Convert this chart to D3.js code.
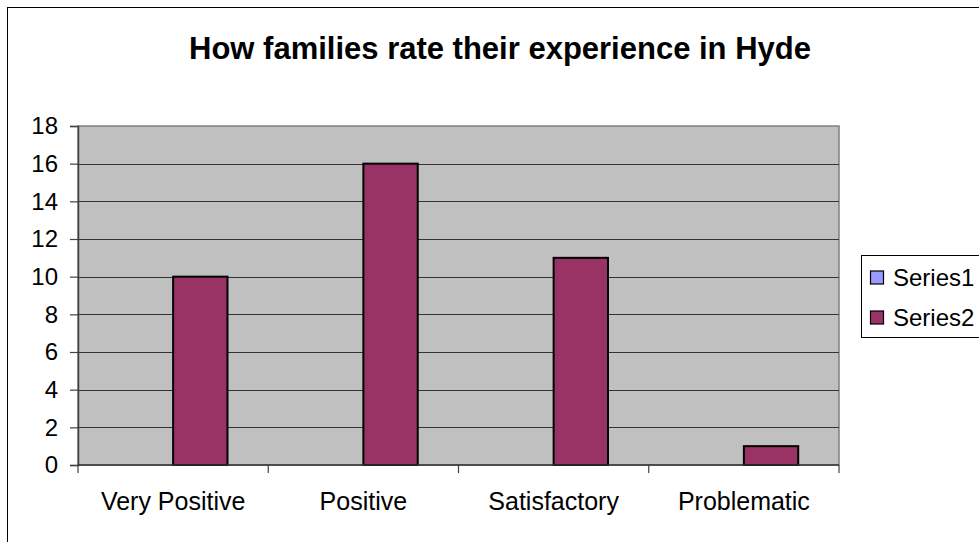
<!DOCTYPE html>
<html>
<head>
<meta charset="utf-8">
<script src="https://cdn.jsdelivr.net/npm/d3@7"></script>
<style>
  body { margin: 0; background: #fff; }
  svg { display: block; font-family: Arial, "Liberation Sans", sans-serif; }
</style>
</head>
<body>
<svg id="chart" width="979" height="542"></svg>
<script>
// dades
const categories = ["Very Positive", "Positive", "Satisfactory", "Problematic"];
const seriesNames = ["Series1", "Series2"];
const series1 = [0, 0, 0, 0];
const series2 = [10, 16, 11, 1];
const yTicks = [0, 2, 4, 6, 8, 10, 12, 14, 16, 18];
const colors = ["#9999FF", "#993366"];

const svg = d3.select("#chart");

// marc exterior
svg.append("rect")
   .attr("x", 7.5).attr("y", 7.5)
   .attr("width", 1000).attr("height", 600)
   .attr("fill", "none").attr("stroke", "#000").attr("stroke-width", 1);

const plot = { left: 78, top: 126, right: 839, bottom: 465 };

const x0 = d3.scaleBand()
             .domain(categories)
             .range([plot.left, plot.right])
             .padding(0);

// gap width 150% com a Excel
const barW = x0.bandwidth() / 3.5;
const x1 = d3.scaleBand()
             .domain(seriesNames)
             .range([barW * 0.75, x0.bandwidth() - barW * 0.75])
             .padding(0);

const y = d3.scaleLinear()
            .domain([0, 18])
            .range([plot.bottom, plot.top]);

const color = d3.scaleOrdinal().domain(seriesNames).range(colors);

// fons de l'àrea
svg.append("rect")
   .attr("x", plot.left).attr("y", plot.top)
   .attr("width", plot.right - plot.left).attr("height", plot.bottom - plot.top)
   .attr("fill", "#C0C0C0")
   .attr("stroke", "#808080").attr("stroke-width", 1.5);

// línies de quadrícula
svg.append("g")
   .selectAll("line")
   .data(yTicks.filter(d => d > 0 && d < 18))
   .enter()
   .append("line")
   .attr("x1", plot.left).attr("x2", plot.right)
   .attr("y1", d => Math.round(y(d)) + 0.5).attr("y2", d => Math.round(y(d)) + 0.5)
   .attr("stroke", "#333").attr("stroke-width", 1.2);

// barres
const data = categories.map((c, i) => ({
    cat: c,
    values: [
        { name: "Series1", v: series1[i] },
        { name: "Series2", v: series2[i] }
    ]
}));

const grups = svg.selectAll(".grup")
                 .data(data)
                 .enter()
                 .append("g")
                 .attr("class", "grup")
                 .attr("transform", d => `translate(${x0(d.cat)},0)`);

grups.selectAll("rect")
     .data(d => d.values.filter(v => v.v > 0))
     .enter()
     .append("rect")
     .attr("x", d => x1(d.name))
     .attr("y", d => y(d.v))
     .attr("width", x1.bandwidth())
     .attr("height", d => y(0) - y(d.v))
     .attr("fill", d => color(d.name))
     .attr("stroke", "#000").attr("stroke-width", 2);

// eix Y
const yAxis = svg.append("g")
   .attr("transform", `translate(${plot.left},0)`)
   .call(d3.axisLeft(y).tickValues(yTicks).tickSize(8).tickPadding(12));
yAxis.select(".domain").attr("stroke", "#404040").attr("stroke-width", 1.5);
yAxis.selectAll(".tick line").attr("stroke", "#404040").attr("stroke-width", 1.2);
yAxis.selectAll("text")
     .style("font-size", "24px")
     .style("font-family", "Arial, 'Liberation Sans', sans-serif")
     .attr("fill", "#000");

// eix X
const xAxis = svg.append("g")
   .attr("transform", `translate(0,${plot.bottom})`)
   .call(d3.axisBottom(x0).tickSize(0).tickPadding(27));
xAxis.select(".domain").remove();
xAxis.selectAll("text")
     .style("font-size", "25px")
     .style("font-family", "Arial, 'Liberation Sans', sans-serif")
     .attr("fill", "#000");

svg.append("line")
   .attr("x1", plot.left).attr("x2", plot.right)
   .attr("y1", plot.bottom).attr("y2", plot.bottom)
   .attr("stroke", "#333").attr("stroke-width", 1.5);

const bounds = categories.map(c => x0(c)).concat([x0(categories[categories.length - 1]) + x0.bandwidth()]);
svg.append("g")
   .selectAll("line")
   .data(bounds)
   .enter()
   .append("line")
   .attr("x1", d => d).attr("x2", d => d)
   .attr("y1", plot.bottom).attr("y2", plot.bottom + 8)
   .attr("stroke", "#404040").attr("stroke-width", 1.2);

// títol
svg.append("text")
   .attr("x", 500).attr("y", 59)
   .attr("text-anchor", "middle")
   .style("font-size", "31px")
   .style("font-weight", "bold")
   .text("How families rate their experience in Hyde");

// llegenda
const legend = svg.append("g").attr("transform", "translate(861,255)");
legend.append("rect")
      .attr("x", 0.5).attr("y", 0.5)
      .attr("width", 200).attr("height", 82)
      .attr("fill", "#fff").attr("stroke", "#000").attr("stroke-width", 1);

seriesNames.forEach((s, i) => {
    const gl = legend.append("g").attr("transform", `translate(0,${23 + i * 40})`);
    gl.append("rect")
      .attr("x", 9.5).attr("y", -7)
      .attr("width", 13).attr("height", 13)
      .attr("fill", color(s)).attr("stroke", "#000").attr("stroke-width", 1.2);
    gl.append("text")
      .attr("x", 32).attr("y", 8)
      .style("font-size", "24px")
      .text(s);
});
</script>
</body>
</html>
